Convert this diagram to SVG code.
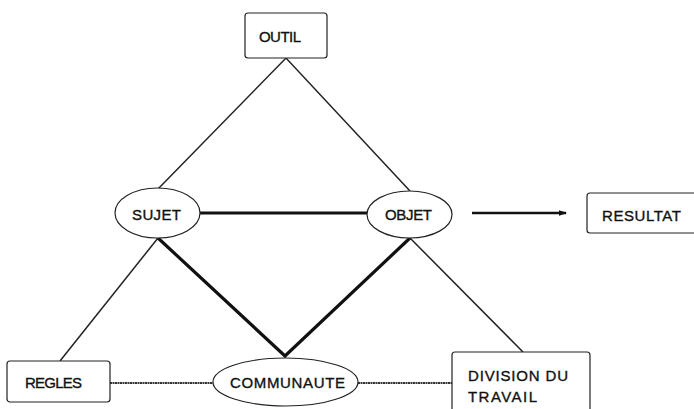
<svg xmlns="http://www.w3.org/2000/svg" width="694" height="409" viewBox="0 0 694 409">
<defs>
<style>
.box{fill:#fff;stroke:#222;stroke-width:1.2}
.ell{fill:#fff;stroke:#222;stroke-width:1.2}
.lbl{font-family:"Liberation Sans",Arial,Helvetica,sans-serif;font-size:15px;fill:#111;stroke:#111;stroke-width:0.35}
.thin{fill:none;stroke:#222;stroke-width:1.5}
.thick{fill:none;stroke:#111;stroke-width:3.2;stroke-linejoin:miter}
.wavy{fill:none;stroke:#333;stroke-width:2.2;stroke-dasharray:2 0.5}
.arrow{fill:none;stroke:#111;stroke-width:2.6}
</style>
<marker id="ah" markerWidth="8" markerHeight="8" refX="7" refY="4" orient="auto" markerUnits="userSpaceOnUse">
<path d="M0,1.2 L8,4 L0,6.8 Z" fill="#111"/>
</marker>
</defs>
<rect width="694" height="409" fill="#fff"/>
<g id="connectors">
<path class="thin" d="M158,189 L286,58 L410,191"/>
<path class="thin" d="M158,238 L60,361"/>
<path class="thin" d="M410,238 L523,352"/>
<line class="thick" x1="200" y1="213" x2="367" y2="213"/>
<path class="thick" d="M158,238 L285,356 L410,238"/>
<line class="wavy" x1="110" y1="383" x2="213" y2="383"/>
<line class="wavy" x1="358" y1="383" x2="452" y2="383"/>
<line class="arrow" x1="472" y1="213" x2="566" y2="213" marker-end="url(#ah)"/>
</g>
<g id="outil">
<rect class="box" x="245" y="13" width="82" height="45" rx="3"/>
<text class="lbl" x="259" y="42" textLength="42">OUTIL</text>
</g>
<g id="sujet">
<ellipse class="ell" cx="157.5" cy="213" rx="42.5" ry="25"/>
<text class="lbl" x="132" y="220" textLength="49">SUJET</text>
</g>
<g id="objet">
<ellipse class="ell" cx="409.5" cy="214.5" rx="42.5" ry="23.5"/>
<text class="lbl" x="385" y="220" textLength="47">OBJET</text>
</g>
<g id="resultat">
<rect class="box" x="587" y="193" width="115" height="40" rx="3"/>
<text class="lbl" x="602" y="221" textLength="79">RESULTAT</text>
</g>
<g id="regles">
<rect class="box" x="7" y="361" width="103" height="41" rx="3"/>
<text class="lbl" x="25" y="388" textLength="57">REGLES</text>
</g>
<g id="communaute">
<ellipse class="ell" cx="285.5" cy="382" rx="72.5" ry="24"/>
<text class="lbl" x="230" y="388" textLength="115">COMMUNAUTE</text>
</g>
<g id="division">
<rect class="box" x="452" y="352" width="138" height="62" rx="3"/>
<text class="lbl" x="468" y="381" textLength="100">DIVISION DU</text>
<text class="lbl" x="468" y="402" textLength="69">TRAVAIL</text>
</g>
</svg>
